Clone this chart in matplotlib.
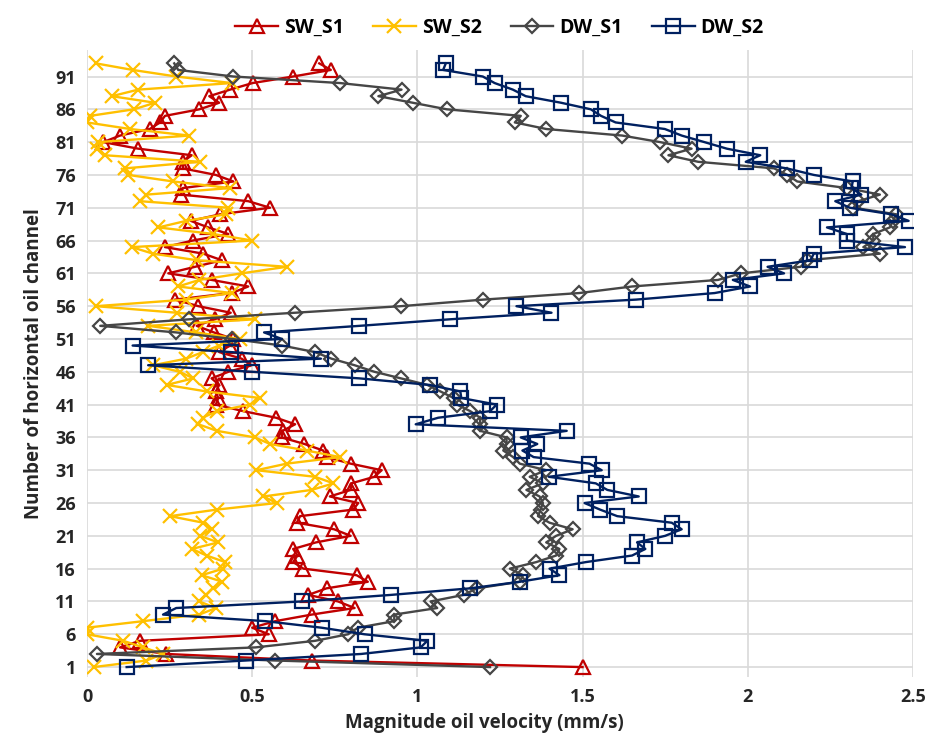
import matplotlib
matplotlib.use("Agg")
import matplotlib.pyplot as plt
from matplotlib import font_manager

channels = list(range(1, 94))

sw_s1 = [1.50, 0.68, 0.24, 0.10, 0.16, 0.55, 0.50, 0.57, 0.68, 0.81,
         0.76, 0.67, 0.725, 0.85, 0.816, 0.655, 0.624, 0.637, 0.624, 0.693,
         0.798, 0.748, 0.635, 0.645, 0.806, 0.821, 0.735, 0.798, 0.80, 0.87,
         0.892, 0.798, 0.725, 0.715, 0.658, 0.589, 0.592, 0.63, 0.572, 0.473,
         0.39, 0.397, 0.39, 0.40, 0.377, 0.428, 0.498, 0.468, 0.40, 0.433,
         0.443, 0.384, 0.332, 0.387, 0.435, 0.337, 0.266, 0.438, 0.488, 0.377,
         0.246, 0.327, 0.408, 0.352, 0.236, 0.32, 0.428, 0.367, 0.314, 0.403,
         0.554, 0.488, 0.284, 0.29, 0.443, 0.39, 0.29, 0.29, 0.317, 0.155,
         0.049, 0.10, 0.19, 0.221, 0.236, 0.34, 0.40, 0.37, 0.433, 0.501,
         0.624, 0.738, 0.703]

sw_s2 = [0.02, 0.18, 0.23, 0.17, 0.11, 0.00, 0.00, 0.17, 0.34, 0.39,
         0.34, 0.36, 0.38, 0.41, 0.347, 0.412, 0.418, 0.362, 0.317, 0.397,
         0.342, 0.377, 0.352, 0.251, 0.393, 0.574, 0.534, 0.68, 0.746, 0.69,
         0.513, 0.604, 0.766, 0.665, 0.554, 0.508, 0.393, 0.337, 0.35, 0.393,
         0.493, 0.524, 0.362, 0.241, 0.322, 0.28, 0.20, 0.30, 0.35, 0.40,
         0.463, 0.33, 0.186, 0.508, 0.271, 0.027, 0.30, 0.438, 0.276, 0.34,
         0.468, 0.604, 0.332, 0.20, 0.135, 0.50, 0.382, 0.216, 0.30, 0.42,
         0.428, 0.16, 0.18, 0.433, 0.261, 0.125, 0.115, 0.342, 0.054, 0.03,
         0.034, 0.31, 0.13, 0.00, 0.009, 0.142, 0.206, 0.075, 0.155, 0.438,
         0.27, 0.138, 0.027]

dw_s1 = [1.22, 0.57, 0.03, 0.51, 0.69, 0.79, 0.82, 0.93, 0.93, 1.06,
         1.04, 1.14, 1.18, 1.31, 1.32, 1.28, 1.36, 1.42, 1.43, 1.39,
         1.42, 1.47, 1.40, 1.365, 1.373, 1.38, 1.37, 1.33, 1.38, 1.34,
         1.39, 1.31, 1.29, 1.26, 1.27, 1.27, 1.19, 1.19, 1.19, 1.16,
         1.12, 1.11, 1.07, 1.03, 0.95, 0.87, 0.81, 0.74, 0.69, 0.59,
         0.44, 0.27, 0.04, 0.31, 0.63, 0.95, 1.20, 1.49, 1.65, 1.91,
         1.98, 2.16, 2.18, 2.40, 2.35, 2.38, 2.38, 2.43, 2.44, 2.45,
         2.32, 2.335, 2.40, 2.30, 2.15, 2.12, 2.08, 1.85, 1.76, 1.83,
         1.735, 1.62, 1.39, 1.295, 1.313, 1.089, 0.986, 0.882, 0.952, 0.766,
         0.443, 0.276, 0.264]

dw_s2 = [0.12, 0.48, 0.83, 1.01, 1.03, 0.84, 0.71, 0.54, 0.23, 0.27,
         0.65, 0.92, 1.16, 1.31, 1.43, 1.40, 1.51, 1.65, 1.69, 1.665,
         1.75, 1.80, 1.77, 1.605, 1.553, 1.506, 1.67, 1.575, 1.54, 1.398,
         1.558, 1.521, 1.352, 1.318, 1.363, 1.313, 1.452, 0.995, 1.063, 1.22,
         1.24, 1.133, 1.13, 1.037, 0.824, 0.50, 0.185, 0.708, 0.436, 0.138,
         0.59, 0.536, 0.824, 1.099, 1.406, 1.30, 1.662, 1.90, 2.007, 1.955,
         2.11, 2.06, 2.19, 2.20, 2.476, 2.30, 2.30, 2.24, 2.487, 2.435,
         2.309, 2.265, 2.344, 2.314, 2.318, 2.20, 2.118, 1.994, 2.038, 1.937,
         1.869, 1.80, 1.749, 1.60, 1.556, 1.525, 1.435, 1.328, 1.289, 1.234,
         1.198, 1.078, 1.086]

series_names = ["SW_S1", "SW_S2", "DW_S1", "DW_S2"]
yticks = list(range(1, 95, 5))
xticks = [0, 0.5, 1, 1.5, 2, 2.5]
xtick_labels = ["0", "0.5", "1", "1.5", "2", "2.5"]

avail = {f.name for f in font_manager.fontManager.ttflist}
fam = [f for f in ["Liberation Sans Narrow", "Open Sans", "DejaVu Sans"] if f in avail]
plt.rcParams["font.family"] = fam

fig = plt.figure(figsize=(9.46, 7.39), dpi=100)
ax = fig.add_axes([0.092, 0.084, 0.873, 0.848])

styles = [
    dict(color="#C00000", marker="^", ms=10, mew=1.6),
    dict(color="#FFC000", marker="x", ms=10, mew=1.6),
    dict(color="#464646", marker="D", ms=7, mew=1.6),
    dict(color="#002060", marker="s", ms=9.5, mew=1.6),
]
for name, vals, st in zip(series_names, [sw_s1, sw_s2, dw_s1, dw_s2], styles):
    ax.plot(vals, channels, color=st["color"], lw=1.7, marker=st["marker"],
            ms=st["ms"], mew=st["mew"], mfc="none", mec=st["color"], label=name)

ax.set_xlim(0, 2.5)
ax.set_ylim(-0.5, 95)
ax.set_xticks(xticks)
ax.set_xticklabels(xtick_labels)
ax.set_yticks(yticks)
ax.grid(True, color="#d9d9d9", lw=1.2)
ax.set_axisbelow(True)
for s in ax.spines.values():
    s.set_visible(False)
ax.tick_params(length=0, labelsize=13, pad=8)
for lab in ax.get_xticklabels() + ax.get_yticklabels():
    lab.set_fontweight("bold")
    lab.set_color("#262626")

ax.set_xlabel("Magnitude oil velocity (mm/s)", fontsize=13.5, fontweight="bold",
              color="#262626")
ax.xaxis.set_label_coords(0.481, -0.058)
ax.set_ylabel("Number of horizontal oil channel", fontsize=13.5, fontweight="bold",
              color="#262626", labelpad=8)

leg = fig.legend(loc="upper center", bbox_to_anchor=(0.528, 1.0), ncol=4,
                 frameon=False, prop=dict(size=14, weight="bold"),
                 handlelength=2.2, columnspacing=1.5, handletextpad=0.3)

fig.savefig("out.png", dpi=100)
